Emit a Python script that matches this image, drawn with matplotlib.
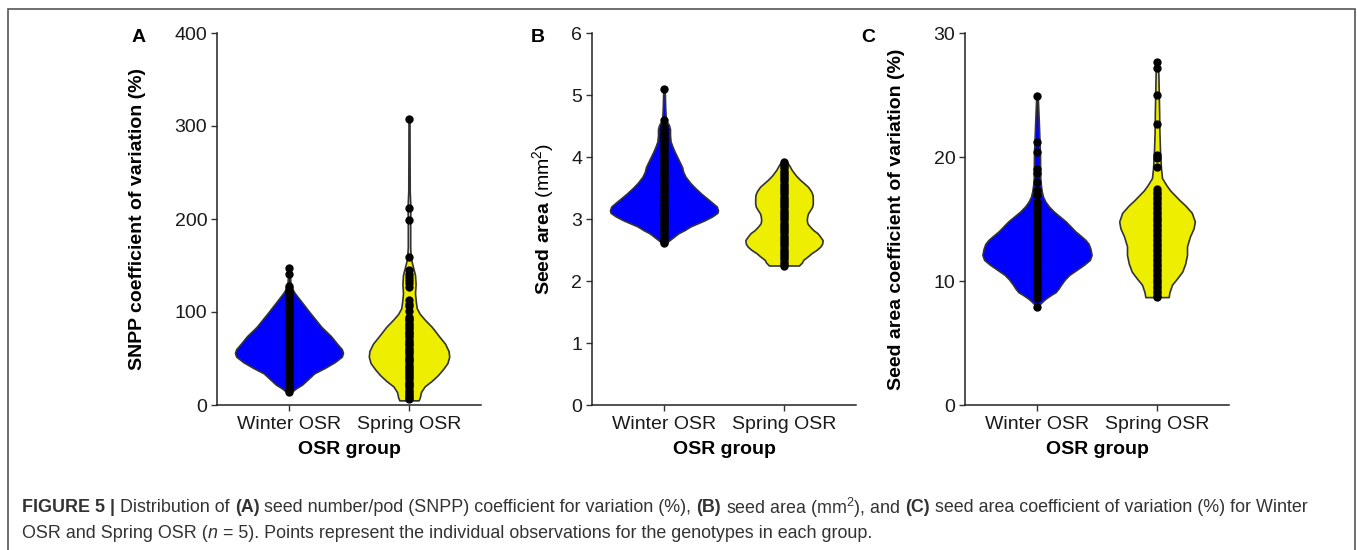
import numpy as np
import matplotlib
matplotlib.use("Agg")
import matplotlib.pyplot as plt
from matplotlib.patches import Rectangle

plt.rcParams['font.family'] = ['Liberation Sans', 'DejaVu Sans']
plt.rcParams['mathtext.fontset'] = 'custom'
plt.rcParams['mathtext.rm'] = 'Liberation Sans'
plt.rcParams['mathtext.it'] = 'Liberation Sans:italic'
plt.rcParams['mathtext.bf'] = 'Liberation Sans:bold'

groups = ["Winter OSR", "Spring OSR"]
colors = ["#0000FF", "#EEEE00"]

# ---- Panel A: SNPP coefficient of variation (%) ----
# violin outlines: value, half width (in category units)
a_win_y = [14, 18, 22, 28, 34, 40, 46, 52, 56, 60, 66, 74, 84, 92, 100, 110, 120, 126, 132, 140, 147]
a_win_w = [0.02, 0.06, 0.11, 0.16, 0.21, 0.30, 0.38, 0.44, 0.45, 0.44, 0.40, 0.35, 0.27, 0.22, 0.17, 0.11, 0.05, 0.02, 0.012, 0.008, 0.005]
a_spr_y = [5, 8, 14, 20, 26, 32, 38, 45, 52, 58, 66, 74, 84, 92, 98, 104, 110, 120, 130, 140, 150, 158, 170, 200, 212, 230, 260, 307]
a_spr_w = [0.08, 0.09, 0.10, 0.13, 0.19, 0.24, 0.28, 0.32, 0.335, 0.33, 0.30, 0.25, 0.19, 0.13, 0.09, 0.065, 0.058, 0.05, 0.055, 0.05, 0.03, 0.015, 0.01, 0.01, 0.012, 0.006, 0.005, 0.004]
a_win_obs = [147, 141, 128, 126, 123, 121, 119, 117, 114, 112, 110, 107, 105, 103, 100, 98, 96, 94, 91, 89,
             87, 85, 82, 80, 78, 76, 73, 71, 68, 66, 64, 62, 60, 58, 55, 53, 51, 49, 46, 44, 42, 40, 37, 35,
             33, 31, 28, 26, 24, 22, 20, 18, 16, 14]
a_spr_obs = [307, 212, 199, 159, 145, 141, 138, 134, 131, 127, 113, 109, 106, 101, 95, 93, 91, 88, 86, 84,
             82, 79, 77, 75, 73, 70, 68, 66, 64, 61, 59, 57, 55, 52, 50, 48, 46, 43, 41, 39, 37, 34, 32, 30,
             28, 25, 23, 21, 19, 16, 14, 12, 10, 8, 6]

# ---- Panel B: seed area (mm2) ----
b_win_y = [2.60, 2.65, 2.71, 2.77, 2.82, 2.88, 2.93, 2.98, 3.04, 3.10, 3.14, 3.20, 3.25, 3.33, 3.41, 3.50, 3.58, 3.68, 3.76, 3.84, 3.92, 4.00, 4.08, 4.17, 4.25, 4.35, 4.45, 4.52, 4.60, 4.80, 5.09]
b_win_w = [0.01, 0.04, 0.08, 0.12, 0.17, 0.22, 0.28, 0.34, 0.40, 0.445, 0.45, 0.44, 0.41, 0.36, 0.31, 0.26, 0.22, 0.18, 0.16, 0.15, 0.13, 0.11, 0.09, 0.07, 0.055, 0.05, 0.05, 0.04, 0.015, 0.01, 0.006]
b_spr_y = [2.25, 2.30, 2.34, 2.40, 2.45, 2.50, 2.55, 2.60, 2.66, 2.72, 2.77, 2.82, 2.88, 2.93, 2.98, 3.04, 3.09, 3.15, 3.20, 3.25, 3.32, 3.39, 3.45, 3.52, 3.58, 3.63, 3.70, 3.79, 3.86, 3.92, 3.95]
b_spr_w = [0.125, 0.15, 0.16, 0.20, 0.23, 0.27, 0.30, 0.318, 0.322, 0.30, 0.28, 0.245, 0.215, 0.195, 0.19, 0.193, 0.20, 0.22, 0.235, 0.24, 0.24, 0.238, 0.225, 0.20, 0.165, 0.135, 0.10, 0.065, 0.045, 0.025, 0.01]
b_win_obs = [5.09, 4.60, 4.49, 4.44, 4.39, 4.35, 4.30, 4.27, 4.23, 4.20, 4.16, 4.13, 4.09, 4.06, 4.02, 3.99,
             3.95, 3.92, 3.88, 3.85, 3.81, 3.78, 3.74, 3.71, 3.67, 3.64, 3.60, 3.57, 3.53, 3.50, 3.46, 3.43,
             3.39, 3.36, 3.32, 3.29, 3.25, 3.22, 3.18, 3.15, 3.11, 3.08, 3.04, 3.01, 2.97, 2.94, 2.90, 2.87,
             2.83, 2.80, 2.76, 2.73, 2.69, 2.66, 2.63, 2.61]
b_spr_obs = [3.92, 3.89, 3.85, 3.82, 3.78, 3.75, 3.71, 3.68, 3.64, 3.61, 3.57, 3.54, 3.50, 3.47, 3.43, 3.40,
             3.36, 3.33, 3.29, 3.26, 3.22, 3.19, 3.15, 3.12, 3.08, 3.05, 3.01, 2.98, 2.94, 2.91, 2.87, 2.84,
             2.80, 2.77, 2.73, 2.70, 2.66, 2.63, 2.59, 2.56, 2.52, 2.49, 2.45, 2.42, 2.38, 2.35, 2.31, 2.28, 2.25]

# ---- Panel C: seed area coefficient of variation (%) ----
c_win_y = [7.9, 8.1, 8.4, 8.6, 8.9, 9.1, 9.4, 9.7, 10.1, 10.5, 10.9, 11.3, 11.7, 12.1, 12.6, 13.0, 13.3, 13.6, 14.0, 14.4, 14.8, 15.2, 15.6, 16.0, 16.4, 16.8, 17.2, 18.0, 19.0, 20.2, 21.5, 22.8, 24.0, 24.9]
c_win_w = [0.01, 0.02, 0.05, 0.075, 0.12, 0.155, 0.18, 0.20, 0.23, 0.27, 0.33, 0.39, 0.44, 0.455, 0.445, 0.43, 0.405, 0.37, 0.32, 0.28, 0.24, 0.19, 0.14, 0.10, 0.07, 0.05, 0.04, 0.028, 0.026, 0.025, 0.02, 0.015, 0.01, 0.006]
c_spr_y = [8.7, 9.1, 9.7, 10.2, 10.75, 11.4, 12.1, 12.8, 13.6, 14.25, 14.8, 15.5, 16.1, 16.5, 16.9, 17.3, 17.7, 18.3, 19.1, 20.5, 22.0, 23.5, 25.0, 26.5, 27.7]
c_spr_w = [0.097, 0.104, 0.125, 0.167, 0.21, 0.235, 0.25, 0.25, 0.275, 0.305, 0.315, 0.29, 0.235, 0.19, 0.15, 0.11, 0.08, 0.042, 0.033, 0.025, 0.02, 0.018, 0.015, 0.012, 0.008]
c_win_obs = [24.9, 21.2, 20.4, 19.0, 18.7, 18.0, 17.3, 16.9, 16.4, 16.2, 16.0, 15.8, 15.6, 15.4, 15.2, 15.0,
             14.8, 14.6, 14.4, 14.2, 14.0, 13.8, 13.6, 13.4, 13.2, 13.0, 12.8, 12.6, 12.4, 12.2, 12.0, 11.8,
             11.6, 11.4, 11.2, 11.0, 10.8, 10.6, 10.4, 10.2, 10.0, 9.8, 9.6, 9.4, 9.2, 9.0, 8.8, 8.6, 7.9]
c_spr_obs = [27.7, 27.2, 25.0, 22.7, 20.2, 19.9, 19.2, 17.4, 17.2, 17.0, 16.8, 16.6, 16.4, 16.2, 16.0, 15.8,
             15.6, 15.4, 15.2, 15.0, 14.8, 14.6, 14.4, 14.2, 14.0, 13.8, 13.6, 13.4, 13.2, 13.0, 12.8, 12.6,
             12.4, 12.2, 12.0, 11.8, 11.6, 11.4, 11.2, 11.0, 10.8, 10.6, 10.4, 10.2, 10.0, 9.8, 9.6, 9.4,
             9.2, 9.0, 8.8, 8.7]

panels = [
    dict(letter="A", left=217, ylim=(0, 400), yticks=[0, 100, 200, 300, 400],
         ylabel="SNPP coefficient of variation (%)", labx=-0.27, letx=139,
         prof=[(a_win_y, a_win_w), (a_spr_y, a_spr_w)], obs=[a_win_obs, a_spr_obs]),
    dict(letter="B", left=592, ylim=(0, 6), yticks=[0, 1, 2, 3, 4, 5, 6],
         ylabel=r"$\mathbf{Seed\ area}$ (mm$^{2}$)", labx=-0.135, letx=538,
         prof=[(b_win_y, b_win_w), (b_spr_y, b_spr_w)], obs=[b_win_obs, b_spr_obs]),
    dict(letter="C", left=965, ylim=(0, 30), yticks=[0, 10, 20, 30],
         ylabel="Seed area coefficient of variation (%)", labx=-0.227, letx=868,
         prof=[(c_win_y, c_win_w), (c_spr_y, c_spr_w)], obs=[c_win_obs, c_spr_obs]),
]

W, H = 1357, 550
fig = plt.figure(figsize=(W / 100, H / 100), dpi=100)

positions = [1, 2]
for p in panels:
    ax = fig.add_axes([p["left"] / W, 1 - 405 / H, 264 / W, 372 / H])
    stats = []
    widths = []
    for (yy, ww), ob in zip(p["prof"], p["obs"]):
        stats.append(dict(coords=np.array(yy), vals=np.array(ww), mean=np.mean(ob),
                          median=np.median(ob), min=min(ob), max=max(ob)))
        widths.append(2 * max(ww))
    parts = ax.violin(stats, positions=positions, widths=widths,
                      showmeans=False, showextrema=False, showmedians=False)
    for body, c in zip(parts["bodies"], colors):
        body.set_facecolor(c)
        body.set_edgecolor("#333333")
        body.set_linewidth(1.2)
        body.set_alpha(1)
        body.set_zorder(2)
    for pos, ob in zip(positions, p["obs"]):
        ax.scatter(np.full(len(ob), pos), ob, s=36, color="black", zorder=3, linewidths=0)

    ax.set_xlim(0.4, 2.6)
    ax.set_ylim(*p["ylim"])
    ax.set_yticks(p["yticks"])
    ax.set_xticks(positions)
    ax.set_xticklabels(groups)
    for s in ["top", "right"]:
        ax.spines[s].set_visible(False)
    for s in ["left", "bottom"]:
        ax.spines[s].set_linewidth(1.1)
        ax.spines[s].set_color("#222222")
    ax.tick_params(axis="both", labelsize=14, length=4, width=1.0, color="#333333", labelcolor="#1a1a1a")
    ax.tick_params(axis="x", pad=4)
    ax.tick_params(axis="y", pad=3)
    ax.set_xlabel("OSR group", fontsize=14, fontweight="bold")
    ax.xaxis.set_label_coords(0.5, -0.098)
    ax.set_ylabel(p["ylabel"], fontsize=14, fontweight="bold" if p["letter"] != "B" else "normal")
    ax.yaxis.set_label_coords(p["labx"], 0.5)
    fig.text(p["letx"] / W, 1 - 37 / H, p["letter"], fontsize=14, fontweight="bold",
             ha="center", va="center")

# frame around the figure
fig.patches.append(Rectangle((8 / W, -0.05), (1355 - 8) / W, 1 - 9 / H + 0.05,
                             transform=fig.transFigure, fill=False,
                             edgecolor="#555555", linewidth=1.2))

# caption with mixed styles
fig.canvas.draw()
renderer = fig.canvas.get_renderer()
CAP_SIZE = 12.9


def text_w(s, **style):
    t = fig.text(0, 0, s, fontsize=CAP_SIZE, **style)
    w = t.get_window_extent(renderer).width
    t.remove()
    return w


space_w = text_w("x x") - text_w("xx")


def caption_line(x_px, y_px, runs):
    # runs: (text, style, space_after)
    x = x_px
    for txt, style, sp in runs:
        t = fig.text(x / W, 1 - y_px / H, txt, fontsize=CAP_SIZE, color="#333333", va="center", **style)
        x += t.get_window_extent(renderer).width + (space_w if sp else 0)


bold = dict(fontweight="bold")
caption_line(22, 508, [
    ("FIGURE 5 |", bold, True),
    ("Distribution of", {}, True),
    ("(A)", bold, True),
    ("seed number/pod (SNPP) coefficient for variation (%),", {}, True),
    ("(B)", bold, True),
    (r"seed area (mm$^{2}$), and", {}, True),
    ("(C)", bold, True),
    ("seed area coefficient of variation (%) for Winter", {}, False),
])
caption_line(22, 533, [
    ("OSR and Spring OSR (", {}, False),
    ("n", dict(style="italic"), True),
    ("= 5). Points represent the individual observations for the genotypes in each group.", {}, False),
])

fig.savefig("out.png", dpi=100)
